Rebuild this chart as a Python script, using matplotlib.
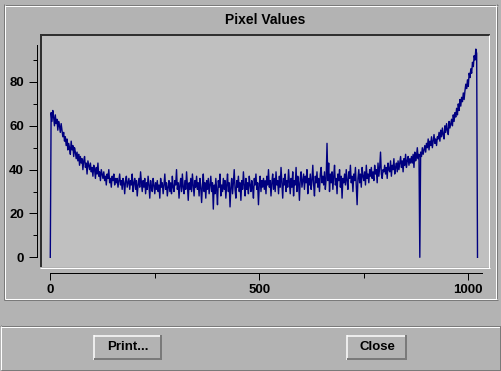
import numpy as np
import matplotlib
matplotlib.use('Agg')
import matplotlib.pyplot as plt
from matplotlib.patches import Rectangle

# pixel values, one every 2 samples (index 0..1022)
vals = [
    0, 66, 62, 67, 64, 60, 65, 61, 63, 58, 62, 60, 57, 61, 58, 55,
    57, 53, 55, 51, 54, 49, 52, 50, 47, 53, 49, 51, 46, 50, 48, 45,
    48, 44, 47, 42, 46, 43, 45, 40, 44, 46, 41, 43, 38, 44, 42, 40,
    43, 39, 41, 37, 42, 40, 36, 41, 38, 43, 37, 39, 35, 40, 38, 36,
    39, 35, 37, 33, 38, 36, 40, 34, 36, 32, 37, 35, 38, 33, 36, 34,
    36, 32, 35, 38, 33, 35, 31, 36, 34, 29, 35, 37, 32, 34, 36, 31,
    35, 33, 38, 30, 34, 36, 31, 35, 28, 33, 36, 32, 39, 34, 30, 35,
    32, 36, 29, 34, 31, 37, 33, 27, 35, 32, 30, 36, 33, 29, 34, 31,
    35, 30, 33, 27, 36, 32, 34, 29, 33, 38, 31, 34, 28, 32, 35, 30,
    34, 29, 37, 32, 30, 35, 33, 40, 31, 34, 27, 33, 36, 30, 38, 32,
    29, 35, 31, 39, 33, 26, 34, 31, 36, 30, 38, 33, 28, 35, 32, 37,
    31, 34, 28, 36, 32, 25, 33, 38, 30, 34, 27, 35, 31, 36, 29, 33,
    37, 30, 34, 22, 33, 29, 36, 31, 24, 35, 32, 38, 28, 33, 30, 36,
    31, 35, 27, 33, 38, 30, 34, 23, 32, 36, 29, 34, 40, 31, 27, 35,
    32, 37, 30, 34, 26, 35, 31, 39, 33, 28, 36, 31, 34, 29, 37, 33,
    30, 35, 32, 27, 36, 33, 38, 31, 34, 24, 33, 37, 30, 35, 32, 36,
    31, 35, 29, 37, 33, 40, 32, 35, 28, 34, 38, 31, 36, 30, 39, 33,
    35, 29, 37, 32, 41, 34, 27, 36, 33, 38, 30, 35, 32, 40, 34, 29,
    36, 32, 39, 28, 35, 33, 41, 30, 37, 34, 26, 36, 39, 32, 35, 38,
    31, 37, 34, 40, 29, 36, 33, 38, 31, 35, 42, 33, 28, 37, 34, 39,
    32, 36, 30, 38, 41, 34, 37, 33, 39, 31, 36, 52, 35, 43, 30, 38,
    34, 39, 31, 37, 42, 33, 36, 29, 38, 35, 40, 32, 37, 27, 36, 34,
    38, 33, 40, 35, 31, 39, 36, 42, 34, 37, 30, 38, 35, 41, 33, 24,
    36, 40, 34, 38, 32, 41, 37, 35, 39, 33, 42, 36, 38, 34, 40, 37,
    41, 36, 39, 35, 42, 38, 40, 34, 43, 37, 41, 48, 38, 36, 40, 39,
    42, 38, 41, 36, 43, 40, 39, 44, 37, 42, 40, 45, 38, 41, 43, 39,
    44, 40, 43, 46, 41, 44, 39, 45, 42, 47, 41, 44, 46, 42, 45, 43,
    46, 43, 47, 41, 48, 44, 46, 50, 45, 47, 0, 48, 46, 50, 47, 49,
    51, 48, 52, 50, 54, 49, 53, 51, 55, 50, 53, 56, 52, 54, 51, 55,
    54, 57, 53, 58, 55, 59, 56, 54, 60, 57, 61, 58, 56, 62, 59, 61,
    63, 60, 65, 62, 66, 64, 68, 65, 70, 67, 72, 69, 73, 71, 75, 72,
    76, 79, 77, 81, 78, 84, 82, 86, 84, 89, 87, 92, 90, 95, 93, 0,
]
idx = np.arange(len(vals)) * 2

yticks = [0, 20, 40, 60, 80]
yminor = [10, 30, 50, 70, 90]
xticks = [0, 500, 1000]
xminor = [250, 750]

BG = '#b3b3b3'
PLOT_BG = '#c0c0c0'
DARK = '#7a7a7a'
PX = 0.72  # points per pixel at 100 dpi

plt.rcParams['font.family'] = ['Liberation Sans', 'DejaVu Sans']
plt.rcParams['font.weight'] = 'bold'

W, H = 502, 371
fig = plt.figure(figsize=(W / 100, H / 100), dpi=100, facecolor=BG)

# data axes (plot area from x=41..489, y=35.3..267.3 in pixels)
ax = fig.add_axes([41 / W, (H - 267.3) / H, (489 - 41) / W, (267.3 - 35.3) / H])
ax.set_facecolor(PLOT_BG)
ax.plot(idx, vals, color='#000080', lw=1.0)
ax.set_xlim(-22.2, 1049.5)
ax.set_ylim(-4.56, 101.3)
for s in ['top', 'right']:
    ax.spines[s].set_visible(False)
ax.spines['left'].set_position(('outward', 4 * PX))
ax.spines['left'].set_bounds(0, 97)
ax.spines['bottom'].set_position(('outward', 5.4 * PX))
ax.spines['bottom'].set_bounds(0, 1033)
for s in ['left', 'bottom']:
    ax.spines[s].set_linewidth(PX)
    ax.spines[s].set_color('black')
ax.set_yticks(yticks)
ax.set_yticks(yminor, minor=True)
ax.set_xticks(xticks)
ax.set_xticks(xminor, minor=True)
ax.tick_params(axis='y', which='major', length=8 * PX, width=PX, pad=5 * PX, labelsize=9.5)
ax.tick_params(axis='y', which='minor', length=4.5 * PX, width=PX)
ax.tick_params(axis='x', which='major', length=7 * PX, width=PX, pad=4 * PX, labelsize=9.5)
ax.tick_params(axis='x', which='minor', length=4.5 * PX, width=PX)

# overlay in pixel coords for the dialog chrome
ov = fig.add_axes([0, 0, 1, 1], zorder=5)
ov.set_xlim(0, W)
ov.set_ylim(H, 0)
ov.axis('off')
ov.patch.set_alpha(0)

def hl(y, x0, x1, c, w=1):
    ov.plot([x0, x1], [y, y], color=c, lw=w * PX, solid_capstyle='butt')

def vl(x, y0, y1, c, w=1):
    ov.plot([x, x], [y0, y1], color=c, lw=w * PX, solid_capstyle='butt')

# etched frame round the graph
hl(4.5, 4, 498, DARK); vl(4.5, 4, 300, DARK)
hl(299.5, 4, 498, DARK); vl(497.5, 4, 300, DARK)
hl(5.5, 5, 497, 'white'); vl(5.5, 5, 299, 'white')
hl(298.5, 5, 497, 'white'); vl(496.5, 5, 299, 'white')

# sunken plot area border
hl(35.3, 40, 490.5, '#303030', 2); vl(41, 34.3, 267.3, '#303030', 2)
hl(267.8, 40, 490, 'white'); vl(489.5, 35, 268.3, 'white')

ov.text(265.5, 19.5, 'Pixel Values', ha='center', va='center', fontsize=10, fontweight='bold')

# lower button panel
hl(325.5, 0, W, DARK); hl(326.5, 1, W - 1, 'white')
vl(0.5, 325, H, DARK); vl(1.5, 326, H - 1, 'white')
hl(369.5, 1, W, DARK); vl(500.5, 326, H, DARK)

def button(x0, y0, x1, y1, label):
    ov.add_patch(Rectangle((x0, y0), x1 - x0, y1 - y0, facecolor=BG, edgecolor='none'))
    hl(y0 + 0.5, x0, x1, 'white', 1.5); vl(x0 + 0.5, y0, y1, 'white', 1.5)
    hl(y1 - 1, x0, x1, DARK, 2); vl(x1 - 1, y0, y1, DARK, 2)
    ov.text((x0 + x1) / 2, (y0 + y1) / 2, label, ha='center', va='center',
            fontsize=9.5, fontweight='bold')

button(94, 335, 162, 360, 'Print...')
button(347, 335, 407, 360, 'Close')

fig.savefig('out.png', dpi=100, facecolor=BG)
